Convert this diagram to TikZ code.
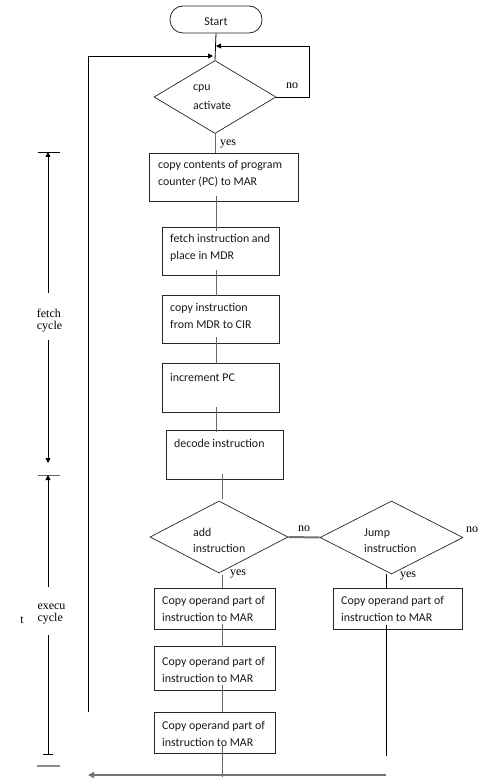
\documentclass[tikz,border=0pt]{standalone}
\usepackage{fontspec}
\setmainfont{Liberation Serif}
\newfontfamily\carlito{Carlito}
\usetikzlibrary{shapes.geometric,arrows.meta}
\begin{document}
\begin{tikzpicture}[x=1pt,y=-1pt,
  box/.style={draw=black!85,line width=0.8pt,rectangle,inner sep=0pt},
  dia/.style={draw=black!85,line width=0.7pt,diamond,inner sep=0pt},
  txt/.style={font=\carlito\fontsize{11.9}{17}\selectfont,align=left,anchor=west,inner sep=0pt,text=black!90},
  lbl/.style={font=\fontsize{12}{14}\selectfont,inner sep=0pt},
  conn/.style={draw=black!60,line width=0.7pt},
  loop/.style={draw=black,line width=0.8pt},
  arr/.style={-{Triangle[length=5pt,width=5pt]}},
  thick gray/.style={draw=black!55,line width=2pt}]
\useasboundingbox (0,0) rectangle (482,778);
% start
\node[draw=black!85,line width=0.8pt,rounded corners=13pt,minimum width=92pt,minimum height=27pt,inner sep=0pt] (start) at (216,19.5) {};
\node[txt,anchor=center] (starttxt) at (216,22) {Start};
% diamonds
\node[dia,minimum width=122pt,minimum height=73pt] (d1) at (215,97) {};
\node[dia,minimum width=138pt,minimum height=72pt] (d2) at (219,537) {};
\node[dia,minimum width=143pt,minimum height=73pt] (d3) at (391.5,537.5) {};
\node[txt,font=\carlito\fontsize{11.9}{19}\selectfont] (d1t) at (193,97.5) {cpu\\activate};
\node[txt,font=\carlito\fontsize{11.9}{15.5}\selectfont] (d2t) at (193,540.5) {add\\instruction};
\node[txt,font=\carlito\fontsize{11.9}{15.5}\selectfont] (d3t) at (364,540.5) {Jump\\instruction};
% boxes
\node[box,minimum width=149pt,minimum height=48pt] (b1) at (223.5,177) {};
\node[box,minimum width=117pt,minimum height=48pt] (b2) at (220.5,251) {};
\node[box,minimum width=117pt,minimum height=48pt] (b3) at (220.5,319) {};
\node[box,minimum width=117pt,minimum height=49pt] (b4) at (220.5,387.5) {};
\node[box,minimum width=117pt,minimum height=49pt] (b5) at (224.5,454.5) {};
\node[box,minimum width=121pt,minimum height=41pt] (a1) at (214.5,608.5) {};
\node[box,minimum width=121pt,minimum height=44pt] (a2) at (214.5,668) {};
\node[box,minimum width=121pt,minimum height=41pt] (a3) at (214.5,732.5) {};
\node[box,minimum width=129pt,minimum height=41pt] (j1) at (397.5,608.5) {};
\node[txt] (b1t) at (158,173.5) {copy contents of program\\counter (PC) to MAR};
\node[txt] (b2t) at (170,247.5) {fetch instruction and\\place in MDR};
\node[txt] (b3t) at (170,316) {copy instruction\\from MDR to CIR};
\node[txt] (b4t) at (170,377) {increment PC};
\node[txt] (b5t) at (174,443) {decode instruction};
\node[txt] (a1t) at (162,608.5) {Copy operand part of\\instruction to MAR};
\node[txt] (a2t) at (162,669.5) {Copy operand part of\\instruction to MAR};
\node[txt] (a3t) at (162,733.5) {Copy operand part of\\instruction to MAR};
\node[txt] (j1t) at (341,608.5) {Copy operand part of\\instruction to MAR};
% labels
\node[lbl] (no1) at (292,86) {no};
\node[lbl] (yes1) at (228,144) {yes};
\node[lbl] (no2) at (304,529) {no};
\node[lbl] (no3) at (472,530) {no};
\node[lbl] (yes2) at (238,574) {yes};
\node[lbl] (yes3) at (408,576) {yes};
% coordinates for connectors
\coordinate (jin) at (216,46);
\coordinate (lin) at (213,56);
\coordinate (rtop) at (309,46);
\coordinate (rbot) at (309,97);
\coordinate (ltop) at (88,56);
\coordinate (lbot) at (88,712);
\coordinate (jbot) at (386,756);
\coordinate (bstart) at (386,775);
\coordinate (bend) at (88,775);
% main connectors
\draw[loop] (start.south) -- (d1.north);
\draw[loop,arr] (d1.east) -- (rbot) -- (rtop) -- (jin);
\draw[loop,arr] (lbot) -- (ltop) -- (lin);
\draw[conn] (d1.south) -- (b1.north -| d1.south);
\draw[conn] ([yshift=5pt]b1.south -| jin) -- ([yshift=-4pt]b2.north -| jin);
\draw[conn] ([yshift=5pt]b2.south -| jin) -- ([yshift=-1pt]b3.north -| jin);
\draw[conn] ([yshift=6pt]b3.south -| jin) -- ([yshift=-1pt]b4.north -| jin);
\draw[conn] ([yshift=5pt]b4.south -| jin) -- ([yshift=-2pt]b5.north -| jin);
\coordinate (cx) at (222,0);
\draw[conn] ([yshift=5pt]b5.south -| cx) -- (222,499);
\draw[conn] (222,575) -- (a1.north -| cx);
\draw[conn] ([yshift=5pt]a1.south -| cx) -- ([yshift=-1pt]a2.north -| cx);
\draw[conn] ([yshift=5pt]a2.south -| cx) -- (a3.north -| cx);
\draw[conn] ([yshift=7pt]a3.south -| cx) -- ([yshift=-2pt]bstart -| cx);
\draw[thick gray] (d2.east) -- (d3.west);
\draw[loop] (386,574) -- (386,588);
\draw[loop] ([yshift=4pt]j1.south -| jbot) -- (jbot);
\draw[thick gray,-{Triangle[length=6pt,width=6pt]}] (bstart) -- (bend);
% left annotations
\draw[loop] (38,152) -- (60,152);
\draw[loop,arr] (48,293) -- (48,152);
\node[lbl] (fetch) at (49.5,320.5) {\begin{tabular}{@{}l@{}}fetch\\[-2pt]cycle\end{tabular}};
\draw[loop,arr] (48,340) -- (48,463);
\draw[line width=0.7pt,black!60] (38,475) -- (60,475);
\draw[loop,arr] (48,587) -- (48,475);
\node[lbl] (exec) at (51.5,613) {\begin{tabular}{@{}l@{}}execu\\[-2pt]cycle\end{tabular}};
\draw[loop,-{Bar[width=10pt]}] (48,635) -- (48,755);
\draw[line width=1.2pt,black!45] (37,766) -- (60,766);
\node[lbl] (stray) at (22,620) {t};
\end{tikzpicture}
\end{document}
